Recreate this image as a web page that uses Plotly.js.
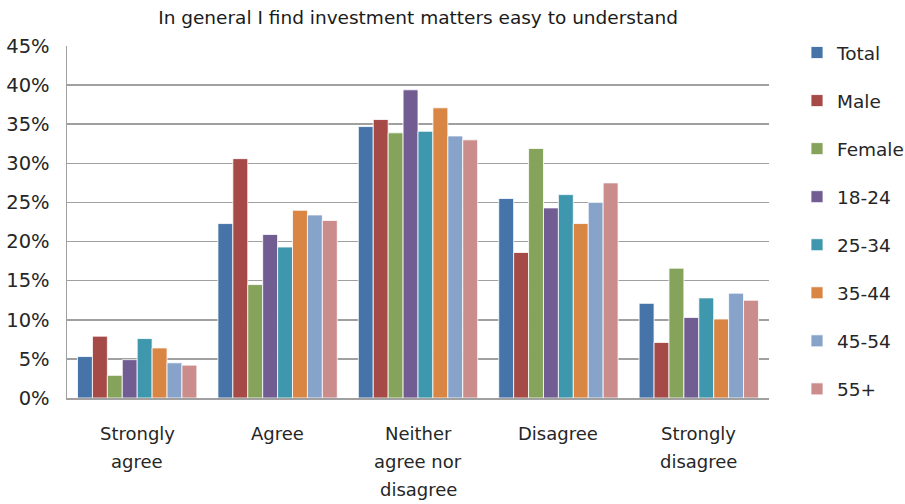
<!DOCTYPE html>
<html>
<head>
<meta charset="utf-8">
<script src="https://cdn.plot.ly/plotly-3.0.1.min.js"></script>
<style>html,body{margin:0;padding:0;background:#fff;}#chart{width:905px;height:504px;}</style>
</head>
<body>
<div id="chart"></div>
<script>
const categories = ["Strongly agree", "Agree", "Neither agree nor disagree", "Disagree", "Strongly disagree"];
const categoryLabels = [["Strongly", "agree"], ["Agree"], ["Neither", "agree nor", "disagree"], ["Disagree"], ["Strongly", "disagree"]];
const seriesNames = ["Total", "Male", "Female", "18-24", "25-34", "35-44", "45-54", "55+"];
const total  = [5.3, 22.3, 34.7, 25.5, 12.1];
const male   = [7.9, 30.6, 35.6, 18.6, 7.1];
const female = [2.9, 14.5, 33.9, 31.9, 16.6];
const age1824 = [4.9, 20.9, 39.4, 24.3, 10.3];
const age2534 = [7.6, 19.3, 34.1, 26.0, 12.8];
const age3544 = [6.4, 24.0, 37.1, 22.3, 10.1];
const age4554 = [4.5, 23.4, 33.5, 25.0, 13.4];
const age55   = [4.2, 22.7, 33.0, 27.5, 12.5];
const yTicks = [0, 5, 10, 15, 20, 25, 30, 35, 40, 45];
const yTickText = ["0%", "5%", "10%", "15%", "20%", "25%", "30%", "35%", "40%", "45%"];

const seriesValues = [total, male, female, age1824, age2534, age3544, age4554, age55];
const colors = ["#4674a8", "#a64a48", "#85a35a", "#715d92", "#3f97ad", "#d98543", "#87a3c9", "#cb8c8c"];
const FONT = "DejaVu Sans";

const traces = seriesNames.map((name, i) => ({
  type: "bar",
  name: name,
  x: categories,
  y: seriesValues[i],
  legendgroup: "g" + i,
  marker: {color: colors[i], line: {color: "#ffffff", width: 0.8}},
  hoverinfo: "none"
}));

const annotations = [];
categories.forEach((c, ci) => {
  categoryLabels[ci].forEach((line, li) => {
    annotations.push({
      x: c, xref: "x", y: 0, yref: "paper",
      yanchor: "middle", xanchor: "center",
      yshift: -35 - li * 28,
      text: line, showarrow: false,
      font: {family: FONT, size: 18, color: "#262626"}
    });
  });
});

const layout = {
  width: 905, height: 504,
  margin: {l: 67, r: 136, t: 46, b: 106},
  paper_bgcolor: "#ffffff", plot_bgcolor: "#ffffff",
  title: {text: "In general I find investment matters easy to understand",
          font: {family: FONT, size: 18.5, color: "#1a1a1a"},
          x: 0.462, xanchor: "center", y: 0.965, yanchor: "middle"},
  barmode: "group", bargap: 0.15, bargroupgap: 0,
  showlegend: true,
  legend: {xref: "container", yref: "container", x: 797/905, xanchor: "left",
           y: 1 - 34/504, yanchor: "top", maxheight: 490,
           font: {family: FONT, size: 18.5, color: "#262626"},
           tracegroupgap: 21, bgcolor: "rgba(0,0,0,0)"},
  xaxis: {type: "category", showticklabels: false, ticks: "",
          showline: true, linecolor: "#a0a0a0", linewidth: 1.5,
          showgrid: false, zeroline: false, fixedrange: true},
  yaxis: {range: [0, 45], tickvals: yTicks, ticktext: yTickText,
          tickfont: {family: FONT, size: 19.5, color: "#262626"},
          showline: true, linecolor: "#a0a0a0", linewidth: 1.5,
          showgrid: true, gridcolor: "#a0a0a0", gridwidth: 1.5,
          zeroline: false, ticks: "", ticklabelstandoff: 12, fixedrange: true},
  annotations: annotations,
  font: {family: FONT}
};

Plotly.newPlot("chart", traces, layout, {displayModeBar: false, staticPlot: true});
</script>
</body>
</html>
